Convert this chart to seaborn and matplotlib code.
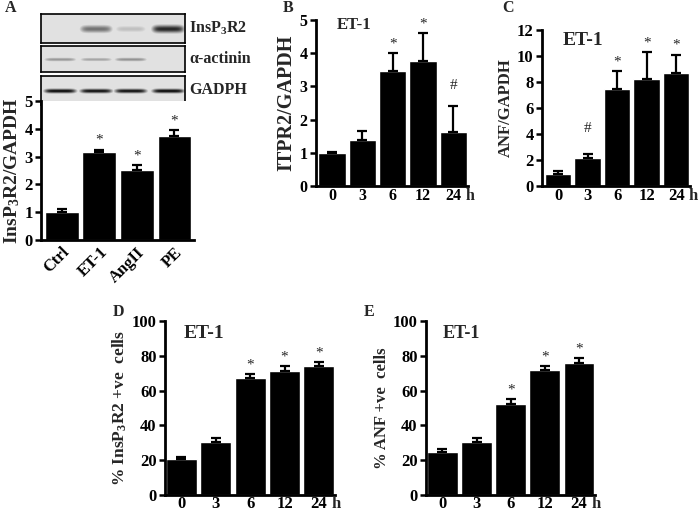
import numpy as np
import pandas as pd
import matplotlib
matplotlib.use("Agg")
import matplotlib.pyplot as plt
import seaborn as sns

# ---------------- data ----------------
a_cats = ["Ctrl", "ET-1", "AngII", "PE"]
a_vals = [1.0, 3.15, 2.52, 3.75]
a_errs = [0.10, 0.10, 0.18, 0.20]
a_marks = ["", "*", "*", "*"]

time_cats = ["0", "3", "6", "12", "24"]

b_vals = [1.0, 1.4, 3.45, 3.78, 1.62]
b_errs = [0.03, 0.25, 0.55, 0.82, 0.78]
b_marks = ["", "", "*", "*", "#"]

c_vals = [0.95, 2.15, 7.45, 8.2, 8.7]
c_errs = [0.20, 0.30, 1.40, 2.10, 1.40]
c_marks = ["", "#", "*", "*", "*"]

d_vals = [20.5, 30.5, 67.5, 71.5, 74.0]
d_errs = [1.5, 2.0, 2.0, 2.5, 2.5]
d_marks = ["", "", "*", "*", "*"]

e_vals = [25.0, 30.5, 52.5, 72.0, 76.0]
e_errs = [1.2, 2.0, 2.5, 2.0, 2.5]
e_marks = ["", "", "*", "*", "*"]

# western blot band intensities (0 = none, 1 = dark)
blot_names = ["InsP$_\\mathbf{3}$R2", "\u03b1-actinin", "GADPH"]
blot_bands = [
    [0.10, 0.55, 0.25, 0.85],
    [0.40, 0.35, 0.42, 0.10],
    [0.95, 0.92, 0.92, 0.95],
]

# ---------------- style ----------------
sns.set_style("ticks")
plt.rcParams["font.family"] = ["Liberation Serif", "DejaVu Serif"]
plt.rcParams["font.weight"] = "bold"
plt.rcParams["mathtext.fontset"] = "custom"
plt.rcParams["mathtext.rm"] = "Liberation Serif:bold"
plt.rcParams["mathtext.it"] = "Liberation Serif:bold"
plt.rcParams["mathtext.bf"] = "Liberation Serif:bold"

W, H = 700, 515
fig = plt.figure(figsize=(7, 5.15), dpi=100)


def px_axes(x0, y0, x1, y1):
    return fig.add_axes([x0 / W, (H - y1) / H, (x1 - x0) / W, (y1 - y0) / H])


def bar_panel(ax, cats, vals, errs, marks, ymax, ystep, ylabel, xlim,
              title=None, title_xy=None, title_size=12, hours=True, rot=False,
              ylsize=12, ticksize=12, xpad=1.5, hash_off=9):
    df = pd.DataFrame({"cat": cats, "val": vals})
    sns.barplot(data=df, x="cat", y="val", color="black", saturation=1,
                width=0.9, errorbar=None, ax=ax)
    x = np.arange(len(cats))
    ax.errorbar(x, vals, yerr=[np.zeros(len(vals)), errs], fmt="none",
                ecolor="black", elinewidth=1.6, capsize=3.5, capthick=1.6)
    for xi, v, e, m in zip(x, vals, errs, marks):
        if m:
            ax.annotate(m, xy=(xi, v + e), xytext=(0, 2 if m == "*" else hash_off),
                        textcoords="offset points", ha="center", va="bottom",
                        fontsize=11, fontweight="normal")
    ax.set_ylim(0, ymax)
    ax.set_yticks(np.arange(0, ymax + 0.001, ystep))
    ax.set_xlim(*xlim)
    ax.set_xlabel("")
    ax.set_ylabel(ylabel, fontsize=ylsize, fontweight="bold", labelpad=2)
    for s in ["top", "right"]:
        ax.spines[s].set_visible(False)
    for s in ["left", "bottom"]:
        ax.spines[s].set_linewidth(2)
        ax.spines[s].set_color("black")
    ax.tick_params(axis="y", direction="out", length=4, width=1.8,
                   labelsize=ticksize, pad=2, colors="black")
    ax.tick_params(axis="x", length=0, labelsize=ticksize, pad=xpad, colors="black")
    ax.yaxis.set_major_formatter(matplotlib.ticker.FormatStrFormatter("%d"))
    ax.set_xticks(x)
    if rot:
        ax.set_xticklabels(cats, rotation=45, ha="right", rotation_mode="anchor",
                           fontweight="bold")
    else:
        ax.set_xticklabels(cats, fontweight="bold")
    if hours:
        ax.annotate("h", xy=(len(cats) - 1, 0), xycoords=("data", "axes fraction"),
                    xytext=(ticksize * 0.74, -xpad), textcoords="offset points",
                    ha="left", va="top", fontsize=ticksize, fontweight="bold")
    if title:
        ax.text(title_xy[0], title_xy[1], title, transform=ax.transAxes,
                fontsize=title_size, fontweight="bold", ha="center", va="center")
    ax.set_facecolor("white")


# ---------------- panel A: blots ----------------
blot_boxes = [(41, 14, 185, 43), (41, 46, 185, 72), (41, 76, 185, 105)]
for (x0, y0, x1, y1), name, bands in zip(blot_boxes, blot_names, blot_bands):
    bax = px_axes(x0, y0, x1, y1)
    w, h = x1 - x0, y1 - y0
    xx = np.arange(w)[None, :]
    yy = np.arange(h)[:, None]
    img = np.full((h, w), 0.12)
    lane_c = [0.13, 0.38, 0.62, 0.88]
    thick = 2.2 if name == "GADPH" else (2.0 if "actinin" in name else 3.8)
    for c, inten in zip(lane_c, bands):
        prof_x = np.exp(-((xx - c * w) / (0.11 * w)) ** 6)
        prof_y = np.exp(-((yy - h * 0.5) / thick) ** 2)
        img = np.maximum(img, inten * prof_x * prof_y)
    bax.imshow(1 - img, cmap="gray", vmin=0, vmax=1, aspect="auto",
               interpolation="bilinear")
    bax.set_xticks([])
    bax.set_yticks([])
    for s in bax.spines.values():
        s.set_linewidth(1.2)
        s.set_color("black")
    fig.text((x1 + 4) / W, 1 - ((y0 + y1) / 2) / H, name, fontsize=11.5,
             fontweight="bold", ha="left", va="center")

# ---------------- bar panels ----------------
axA = px_axes(41, 101, 194, 240)
bar_panel(axA, a_cats, a_vals, a_errs, a_marks, 5, 1,
          "InsP$_\\mathbf{3}$R2/GAPDH", (-0.55, 3.52), hours=False, rot=True,
          ylsize=14, xpad=3)

axB = px_axes(316, 20, 468, 186)
bar_panel(axB, time_cats, b_vals, b_errs, b_marks, 5, 1, "ITPR2/GAPDH",
          (-0.53, 4.48), title="ET-1", title_xy=(0.25, 0.97), title_size=12,
          ylsize=14.5, ticksize=11.5, hash_off=10)

axC = px_axes(542, 30, 690, 186)
bar_panel(axC, time_cats, c_vals, c_errs, c_marks, 12, 2, "ANF/GAPDH",
          (-0.55, 4.47), title="ET-1", title_xy=(0.28, 0.93), title_size=14,
          ylsize=12, ticksize=12, hash_off=14)

axD = px_axes(165, 321, 335, 495)
bar_panel(axD, time_cats, d_vals, d_errs, d_marks, 100, 20,
          "% InsP$_\\mathbf{3}$R2 +ve  cells", (-0.48, 4.47),
          title="ET-1", title_xy=(0.23, 0.93), title_size=14, ylsize=12.5,
          xpad=1)

axE = px_axes(426, 321, 595, 495)
bar_panel(axE, time_cats, e_vals, e_errs, e_marks, 100, 20,
          "% ANF +ve  cells", (-0.48, 4.47),
          title="ET-1", title_xy=(0.21, 0.93), title_size=13, xpad=1)

# panel letters
for lab, (lx, ly) in {"A": (5, 8), "B": (283, 8), "C": (502, 8),
                      "D": (113, 312), "E": (364, 312)}.items():
    fig.text(lx / W, 1 - ly / H, lab, fontsize=11.5, fontweight="bold",
             ha="left", va="center")

fig.savefig("out.png", dpi=100, facecolor="white")
